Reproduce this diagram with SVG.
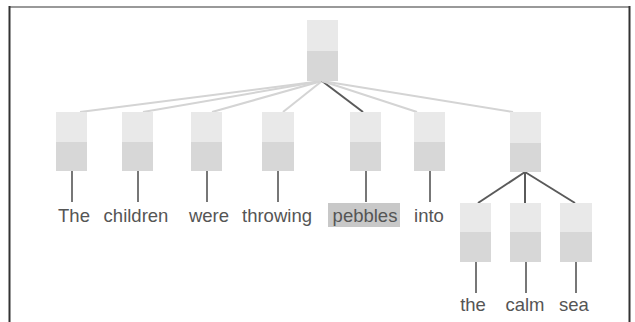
<svg xmlns="http://www.w3.org/2000/svg" width="635" height="322" viewBox="0 0 635 322">
<style>
.top{fill:#e9e9e9}
.bot{fill:#d7d7d7}
.lt{stroke:#d4d4d4;stroke-width:2;fill:none}
.dk{stroke:#5a5a5a;stroke-width:2;fill:none}
.stem{stroke:#777;stroke-width:2;fill:none}
text{font-family:"Liberation Sans",Arial,sans-serif;font-size:18.5px;fill:#555;text-anchor:middle}
</style>
<rect width="635" height="322" fill="#fff"/>
<line x1="9" y1="7" x2="629" y2="7" stroke="#999" stroke-width="2"/>
<line x1="9.5" y1="6" x2="9.5" y2="322" stroke="#333" stroke-width="2"/>
<line x1="629.5" y1="6" x2="629.5" y2="322" stroke="#333" stroke-width="2"/>
<g id="connectors">
<line class="lt" x1="322" y1="81" x2="80" y2="112"/>
<line class="lt" x1="322" y1="81" x2="143" y2="112"/>
<line class="lt" x1="322" y1="81" x2="212" y2="112"/>
<line class="lt" x1="322" y1="81" x2="283" y2="112"/>
<line class="dk" x1="322" y1="81" x2="363" y2="112"/>
<line class="lt" x1="322" y1="81" x2="417" y2="112"/>
<line class="lt" x1="322" y1="81" x2="513" y2="112"/>
<line class="dk" x1="525" y1="172" x2="478" y2="203"/>
<line class="dk" x1="525" y1="172" x2="525" y2="203"/>
<line class="dk" x1="525" y1="172" x2="575" y2="203"/>
<line class="stem" x1="72" y1="170" x2="72" y2="202"/>
<line class="stem" x1="138" y1="170" x2="138" y2="202"/>
<line class="stem" x1="207" y1="170" x2="207" y2="202"/>
<line class="stem" x1="278" y1="170" x2="278" y2="202"/>
<line class="stem" x1="366" y1="170" x2="366" y2="202"/>
<line class="stem" x1="430" y1="170" x2="430" y2="202"/>
<line class="stem" x1="476" y1="262" x2="476" y2="293"/>
<line class="stem" x1="526" y1="262" x2="526" y2="293"/>
<line class="stem" x1="576" y1="262" x2="576" y2="293"/>
</g>
<g id="root"><rect class="top" x="307" y="20" width="31" height="31"/><rect class="bot" x="307" y="51" width="31" height="30"/></g>
<g id="n-the1"><rect class="top" x="56" y="112" width="31" height="30"/><rect class="bot" x="56" y="142" width="31" height="29"/><text x="74" y="222">The</text></g>
<g id="n-children"><rect class="top" x="122" y="112" width="31" height="30"/><rect class="bot" x="122" y="142" width="31" height="29"/><text x="136" y="222">children</text></g>
<g id="n-were"><rect class="top" x="191" y="112" width="31" height="30"/><rect class="bot" x="191" y="142" width="31" height="29"/><text x="209" y="222">were</text></g>
<g id="n-throwing"><rect class="top" x="262" y="112" width="32" height="30"/><rect class="bot" x="262" y="142" width="32" height="29"/><text x="277" y="222">throwing</text></g>
<g id="n-pebbles"><rect class="top" x="350" y="112" width="31" height="30"/><rect class="bot" x="350" y="142" width="31" height="29"/><rect x="328" y="203" width="72" height="24" fill="#c8c8c8"/><text x="365" y="222">pebbles</text></g>
<g id="n-into"><rect class="top" x="414" y="112" width="31" height="30"/><rect class="bot" x="414" y="142" width="31" height="29"/><text x="429" y="222">into</text></g>
<g id="n-np"><rect class="top" x="510" y="112" width="31" height="31"/><rect class="bot" x="510" y="143" width="31" height="29"/></g>
<g id="n-the2"><rect class="top" x="460" y="203" width="31" height="29"/><rect class="bot" x="460" y="232" width="31" height="30"/><text x="473" y="311">the</text></g>
<g id="n-calm"><rect class="top" x="510" y="203" width="31" height="29"/><rect class="bot" x="510" y="232" width="31" height="30"/><text x="525" y="311">calm</text></g>
<g id="n-sea"><rect class="top" x="560" y="203" width="32" height="29"/><rect class="bot" x="560" y="232" width="32" height="30"/><text x="574" y="311">sea</text></g>
</svg>
